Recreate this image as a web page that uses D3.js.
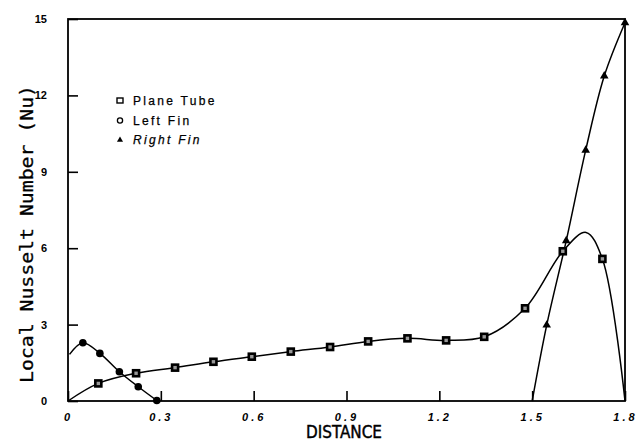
<!DOCTYPE html>
<html>
<head>
<meta charset="utf-8">
<script src="https://cdn.jsdelivr.net/npm/d3@7"></script>
<style>
  body { margin: 0; background: #fff; }
  svg { display: block; }
</style>
</head>
<body>
<svg id="chart" width="641" height="445"></svg>
<script>
// values
var xTicks = [0, 0.3, 0.6, 0.9, 1.2, 1.5, 1.8];
var yTicks = [0, 3, 6, 9, 12, 15];

var tubeDist = [0, 0.098, 0.22, 0.346, 0.47, 0.594, 0.72, 0.847, 0.97, 1.097, 1.222, 1.345, 1.477, 1.599, 1.674, 1.727, 1.8];
var tubeNu   = [0, 0.69, 1.09, 1.31, 1.54, 1.74, 1.94, 2.12, 2.34, 2.46, 2.38, 2.52, 3.64, 5.88, 6.62, 5.58, 0];
var tubeMark = [0, 1, 1, 1, 1, 1, 1, 1, 1, 1, 1, 1, 1, 1, 0, 1, 0];

var leftDist = [0.005, 0.048, 0.103, 0.166, 0.227, 0.287];
var leftNu   = [1.83, 2.29, 1.87, 1.15, 0.56, 0.02];
var leftMark = [0, 1, 1, 1, 1, 1];

var rightDist = [1.5, 1.547, 1.61, 1.673, 1.733, 1.8];
var rightNu   = [0, 2.98, 6.29, 9.85, 12.76, 14.85];
var rightMark = [0, 1, 1, 1, 1, 1];

var legendNames = ["Plane Tube", "Left Fin", "Right Fin"];

var svg = d3.select("#chart");
var x = d3.scaleLinear().domain([0, 1.8]).range([68, 625]);
var y = d3.scaleLinear().domain([0, 15]).range([401, 19]);

function pts(ds, vs, ms) {
    return ds.map(function (d, i) { return { d: d, v: vs[i], m: ms[i] }; });
}
var tube = pts(tubeDist, tubeNu, tubeMark);
var left = pts(leftDist, leftNu, leftMark);
var right = pts(rightDist, rightNu, rightMark);

// frame
svg.append("rect")
    .attr("x", x(0)).attr("y", y(15))
    .attr("width", x(1.8) - x(0)).attr("height", y(0) - y(15))
    .attr("fill", "none").attr("stroke", "#000").attr("stroke-width", 1.8);

// axes with inward ticks
var xAxis = svg.append("g")
    .attr("transform", "translate(0," + y(0) + ")")
    .call(d3.axisBottom(x).tickValues(xTicks).tickSize(-10).tickPadding(12)
        .tickFormat(function (d) { return d === 0 ? "0" : d3.format(".1f")(d); }));
xAxis.select(".domain").remove();
xAxis.selectAll("line").attr("stroke-width", 1.6);
xAxis.selectAll("text")
    .attr("font-family", "Liberation Sans, Arial, sans-serif")
    .attr("font-size", 11).attr("font-style", "italic").attr("font-weight", "bold")
    .attr("letter-spacing", 3).attr("fill", "#000");

var yAxis = svg.append("g")
    .attr("transform", "translate(" + x(0) + ",0)")
    .call(d3.axisLeft(y).tickValues(yTicks).tickSize(-10).tickPadding(21));
yAxis.select(".domain").remove();
yAxis.selectAll("line").attr("stroke-width", 1.6);
yAxis.selectAll("text")
    .attr("font-family", "Liberation Sans, Arial, sans-serif")
    .attr("font-size", 11).attr("font-weight", "bold").attr("fill", "#000");

// axis titles
svg.append("text")
    .attr("x", 344).attr("y", 438)
    .attr("text-anchor", "middle")
    .attr("font-family", "Liberation Sans Narrow, DejaVu Sans Condensed, sans-serif")
    .attr("font-size", 17)
    .attr("stroke", "#000").attr("stroke-width", 0.4)
    .attr("textLength", 76).attr("lengthAdjust", "spacingAndGlyphs")
    .text("DISTANCE");

svg.append("text")
    .attr("transform", "translate(33,234) rotate(-90)")
    .attr("text-anchor", "middle")
    .attr("font-family", "DejaVu Sans Mono, monospace")
    .attr("font-size", 17)
    .attr("stroke", "#000").attr("stroke-width", 0.3)
    .attr("textLength", 298).attr("lengthAdjust", "spacingAndGlyphs")
    .text("Local Nusselt Number (Nu)");

// curves
var line = d3.line()
    .x(function (p) { return x(p.d); })
    .y(function (p) { return y(p.v); })
    .curve(d3.curveCatmullRom.alpha(0.5));

[tube, left, right].forEach(function (s) {
    svg.append("path").datum(s)
        .attr("d", line)
        .attr("fill", "none").attr("stroke", "#000").attr("stroke-width", 1.5);
});

// markers
svg.selectAll(".sq").data(tube.filter(function (p) { return p.m; }))
    .enter().append("rect")
    .attr("x", function (p) { return x(p.d) - 3; })
    .attr("y", function (p) { return y(p.v) - 3; })
    .attr("width", 6).attr("height", 6)
    .attr("fill", "#999").attr("stroke", "#000").attr("stroke-width", 2.6);

svg.selectAll(".ci").data(left.filter(function (p) { return p.m; }))
    .enter().append("circle")
    .attr("cx", function (p) { return x(p.d); })
    .attr("cy", function (p) { return y(p.v); })
    .attr("r", 3.8).attr("fill", "#000");

var tri = d3.symbol().type(d3.symbolTriangle).size(32);
svg.selectAll(".tr").data(right.filter(function (p) { return p.m; }))
    .enter().append("path")
    .attr("d", tri)
    .attr("transform", function (p) { return "translate(" + x(p.d) + "," + y(p.v) + ")"; })
    .attr("fill", "#000");

// legend
var lg = svg.append("g");
legendNames.forEach(function (name, i) {
    var cy = 101 + i * 19.5;
    if (i === 0) {
        lg.append("rect").attr("x", 117).attr("y", cy - 3).attr("width", 6).attr("height", 5)
            .attr("fill", "none").attr("stroke", "#000").attr("stroke-width", 1.4);
    } else if (i === 1) {
        lg.append("circle").attr("cx", 120).attr("cy", cy).attr("r", 2.6)
            .attr("fill", "none").attr("stroke", "#000").attr("stroke-width", 1.3);
    } else {
        lg.append("path").attr("d", d3.symbol().type(d3.symbolTriangle).size(16))
            .attr("transform", "translate(120," + cy + ")").attr("fill", "#000");
    }
    lg.append("text")
        .attr("x", 133).attr("y", cy + 4)
        .attr("font-family", "Liberation Sans, Arial, sans-serif")
        .attr("font-size", 12).attr("letter-spacing", 2.3)
        .attr("stroke", "#000").attr("stroke-width", 0.25)
        .attr("font-style", i === 2 ? "italic" : "normal")
        .text(name);
});
</script>
</body>
</html>
